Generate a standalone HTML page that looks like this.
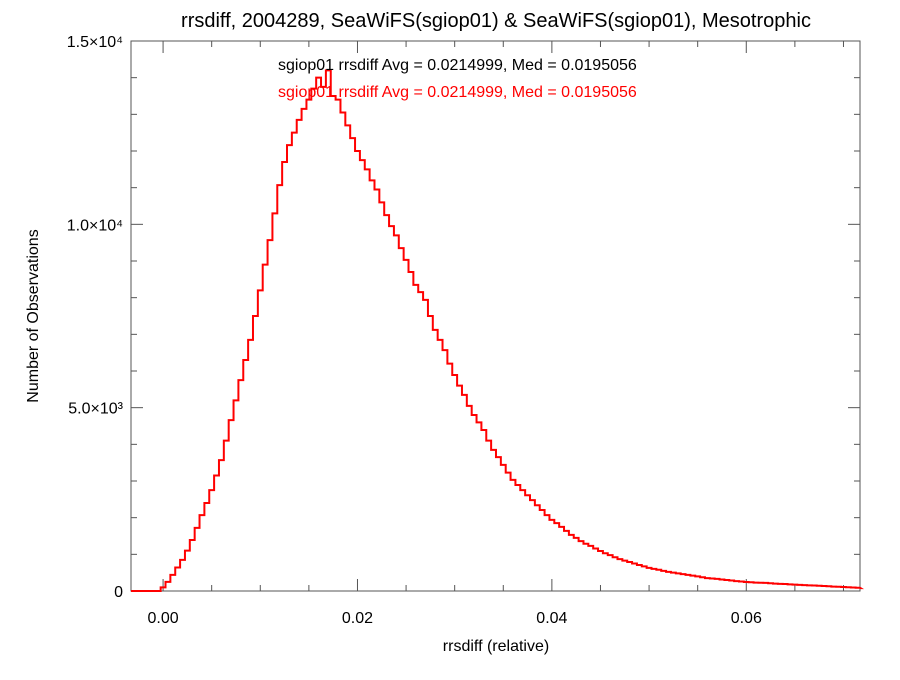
<!DOCTYPE html>
<html><head><meta charset="utf-8"><style>
body{margin:0;background:#fff;font-family:"Liberation Sans",Arial,sans-serif;}
</style></head><body>
<svg width="900" height="675" xmlns="http://www.w3.org/2000/svg" font-family="Liberation Sans, Arial, sans-serif">
<rect width="900" height="675" fill="#fff"/>
<text x="496" y="27" text-anchor="middle" font-size="20">rrsdiff, 2004289, SeaWiFS(sgiop01) &amp; SeaWiFS(sgiop01), Mesotrophic</text>
<g id="axes"></g>
<path id="hist" fill="none" stroke="#ff0000" stroke-width="2"/>
<text x="278" y="70" font-size="16" fill="#000">sgiop01 rrsdiff Avg = 0.0214999, Med = 0.0195056</text>
<text x="278" y="97" font-size="16" fill="#ff0000">sgiop01 rrsdiff Avg = 0.0214999, Med = 0.0195056</text>
<text x="496" y="651" text-anchor="middle" font-size="16">rrsdiff (relative)</text>
<text transform="translate(38,316) rotate(-90)" text-anchor="middle" font-size="16">Number of Observations</text>
</svg>
<script>
const binStart = -0.00025;
const binWidth = 0.0005;
const counts = [100,250,440,640,850,1100,1390,1720,2070,2400,2750,3150,3570,4100,4660,5200,5750,6300,6850,7500,8200,8900,9570,10300,11070,11700,12160,12500,12850,13150,13400,13700,14000,13750,14200,13500,13400,13050,12700,12350,12000,11750,11500,11200,10950,10600,10250,9950,9700,9350,9030,8700,8350,8150,7940,7500,7120,6850,6570,6200,5890,5600,5350,5050,4800,4600,4390,4100,3850,3650,3440,3230,3030,2890,2750,2610,2480,2340,2210,2070,1940,1850,1750,1640,1530,1450,1360,1290,1230,1160,1090,1030,980,920,870,830,790,750,710,670,630,605,580,550,520,500,480,460,440,420,400,375,350,340,330,315,300,285,270,258,245,238,230,225,220,210,200,195,190,182,175,168,160,155,150,142,135,128,120,115,110,102,95,88,80];
const xTicks = [0.00,0.02,0.04,0.06];
const xTickLabels = ["0.00","0.02","0.04","0.06"];
const yTicks = [0,5000,10000,15000];
const yTickLabels = ["0","5.0×10³","1.0×10⁴","1.5×10⁴"];
const L=131,R=860,T=41,B=591,xMin=-0.0033,xMax=0.0717,yMax=15000;
const xs=v=>L+(v-xMin)/(xMax-xMin)*(R-L);
const ys=v=>B-v/yMax*(B-T);
const NS="http://www.w3.org/2000/svg";
const ax=document.getElementById('axes');
function mk(tag,attrs){const e=document.createElementNS(NS,tag);for(const k in attrs)e.setAttribute(k,attrs[k]);ax.appendChild(e);return e;}
const frame=mk('rect',{x:L,y:T,width:R-L,height:B-T,fill:'none',stroke:'#555','stroke-width':1});


for(let v=0;v<=0.0717;v+=0.005){const x=xs(v);const major=Math.abs(v/0.02-Math.round(v/0.02))<1e-6;const len=major?12:6;
mk('line',{x1:x,x2:x,y1:B,y2:B-len,stroke:'#555'});mk('line',{x1:x,x2:x,y1:T,y2:T+len,stroke:'#555'});}
for(let v=0;v<=15000;v+=1000){const y=ys(v);const major=v%5000===0;const len=major?12:6;
mk('line',{x1:L,x2:L+len,y1:y,y2:y,stroke:'#555'});mk('line',{x1:R,x2:R-len,y1:y,y2:y,stroke:'#555'});}
xTicks.forEach((v,i)=>{const t=mk('text',{x:xs(v),y:623,'text-anchor':'middle','font-size':16});t.textContent=xTickLabels[i];

});
yTicks.forEach((v,i)=>{const t=mk('text',{x:123,y:ys(v)+6,'text-anchor':'end','font-size':16});t.textContent=yTickLabels[i];

});
let d='M'+L+','+ys(0)+' L'+xs(binStart)+','+ys(0);
counts.forEach((c,i)=>{const x0=xs(binStart+i*binWidth),x1=xs(binStart+(i+1)*binWidth);d+=' L'+x0+','+ys(c)+' L'+Math.min(x1,R)+','+ys(c);});
document.getElementById('hist').setAttribute('d',d);
</script>
</body></html>
